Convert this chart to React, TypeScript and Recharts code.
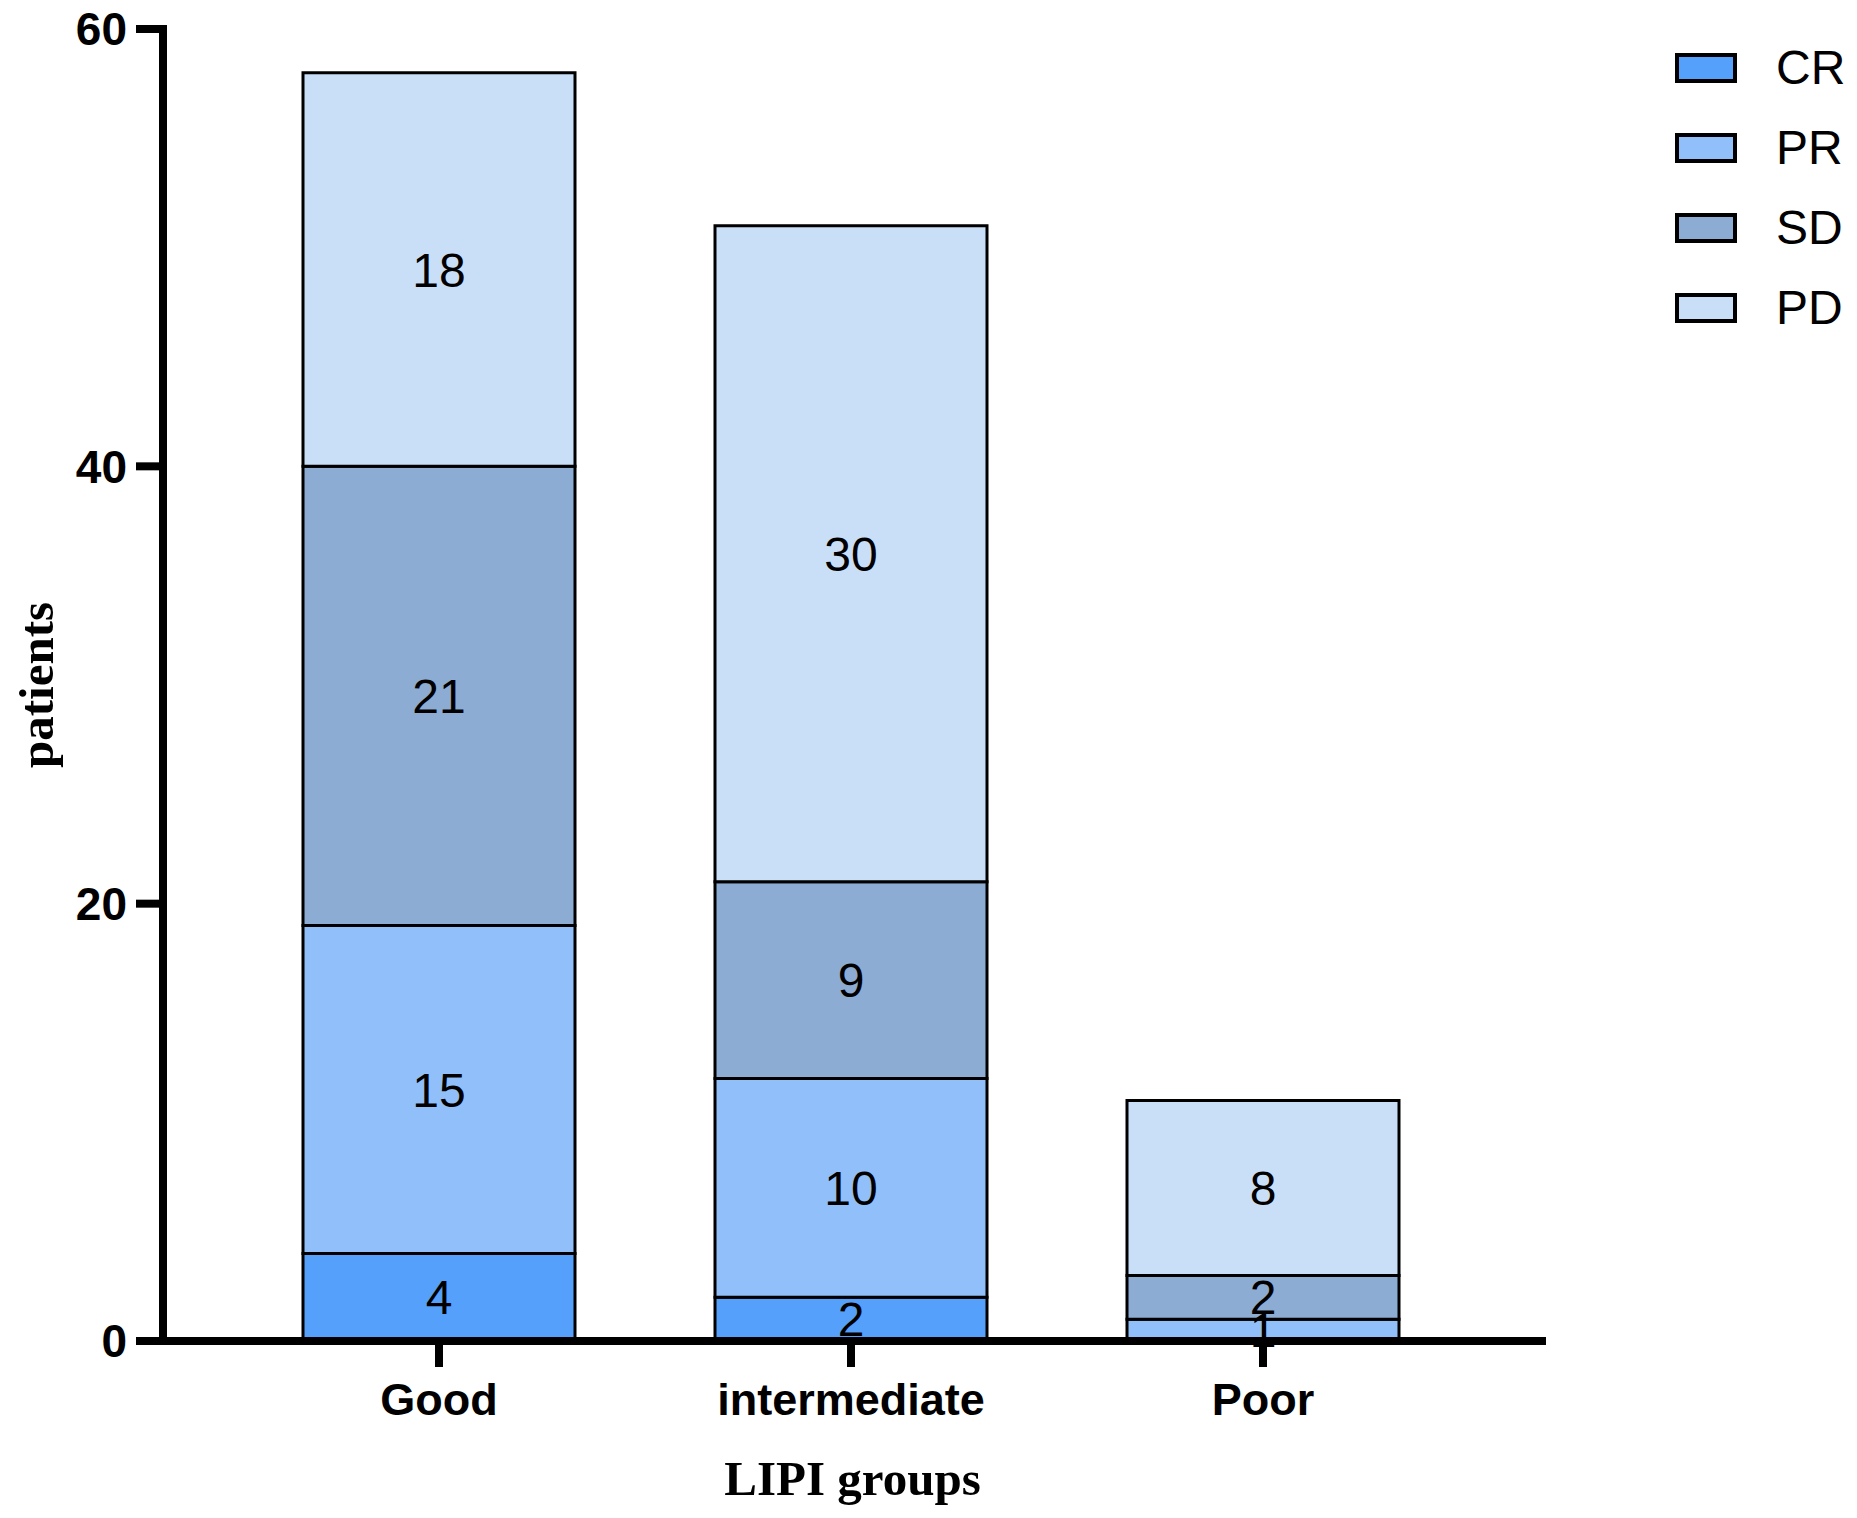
import { BarChart, Bar, XAxis, YAxis, Legend, LabelList } from "recharts";

const groups = ["Good", "intermediate", "Poor"];
const responses = ["CR", "PR", "SD", "PD"];
const crValues = [4, 2, 0];
const prValues = [15, 10, 1];
const sdValues = [21, 9, 2];
const pdValues = [18, 30, 8];
const yTicks = [0, 20, 40, 60];

const colors: Record<string, string> = {
  CR: "#55A0FB",
  PR: "#91BFF9",
  SD: "#8CACD4",
  PD: "#C9DFF8",
};

const data = groups.map((group, i) => ({
  group,
  CR: crValues[i],
  PR: prValues[i],
  SD: sdValues[i],
  PD: pdValues[i],
}));

const sans = "'Liberation Sans', Arial, sans-serif";
const serif = "'Liberation Serif', 'Times New Roman', serif";

const LegendBox = () => (
  <div style={{ fontFamily: sans }}>
    {responses.map((name) => (
      <div
        key={name}
        style={{ display: "flex", alignItems: "center", height: 80 }}
      >
        <div
          style={{
            width: 62,
            height: 30,
            boxSizing: "border-box",
            border: "4px solid #000",
            background: colors[name],
          }}
        />
        <span
          style={{ marginLeft: 39, fontSize: 48, lineHeight: "80px", color: "#000" }}
        >
          {name}
        </span>
      </div>
    ))}
  </div>
);

const hideZero = (v: any) => (v === 0 ? "" : v);

export default function App() {
  return (
    <div style={{ position: "absolute", left: 0, top: 0, background: "#fff" }}>
      <BarChart
        width={1857}
        height={1518}
        data={data}
        margin={{ top: 29, right: 315, bottom: 0, left: 0 }}
      >
        <XAxis
          dataKey="group"
          height={177}
          padding={{ left: 70, right: 73 }}
          axisLine={{ stroke: "#000", strokeWidth: 8, strokeLinecap: "square" }}
          tickLine={{ stroke: "#000", strokeWidth: 8 }}
          tickSize={26}
          tickMargin={16}
          tick={{ fill: "#000", fontSize: 45, fontWeight: "bold", fontFamily: sans }}
          label={{
            content: ({ viewBox }: any) => (
              <text
                x={viewBox.x + viewBox.width / 2}
                y={viewBox.y + 154}
                textAnchor="middle"
                fontFamily={serif}
                fontWeight="bold"
                fontSize={49}
                fill="#000"
              >
                LIPI groups
              </text>
            ),
          }}
        />
        <YAxis
          width={163}
          domain={[0, 60]}
          ticks={yTicks}
          axisLine={{ stroke: "#000", strokeWidth: 8, strokeLinecap: "square" }}
          tickLine={{ stroke: "#000", strokeWidth: 8 }}
          tickSize={27}
          tickMargin={9}
          tick={{ fill: "#000", fontSize: 46, fontWeight: "bold", fontFamily: sans }}
          label={{
            content: ({ viewBox }: any) => {
              const x = viewBox.x + 36;
              const y = viewBox.y + viewBox.height / 2;
              return (
                <text
                  x={x}
                  y={y}
                  transform={`rotate(-90 ${x} ${y})`}
                  textAnchor="middle"
                  dominantBaseline="central"
                  fontFamily={serif}
                  fontWeight="bold"
                  fontSize={49}
                  fill="#000"
                >
                  patients
                </text>
              );
            },
          }}
        />
        <Legend
          layout="vertical"
          align="center"
          verticalAlign="middle"
          wrapperStyle={{ left: 1675, top: 28, width: 180 }}
          content={() => <LegendBox />}
        />
        {responses.map((name) => (
          <Bar
            key={name}
            dataKey={name}
            stackId="a"
            fill={colors[name]}
            stroke="#000"
            strokeWidth={3}
            barSize={272}
            isAnimationActive={false}
          >
            <LabelList
              dataKey={name}
              position="center"
              formatter={hideZero}
              fill="#000"
              fontSize={48}
              fontFamily={sans}
            />
          </Bar>
        ))}
      </BarChart>
    </div>
  );
}
